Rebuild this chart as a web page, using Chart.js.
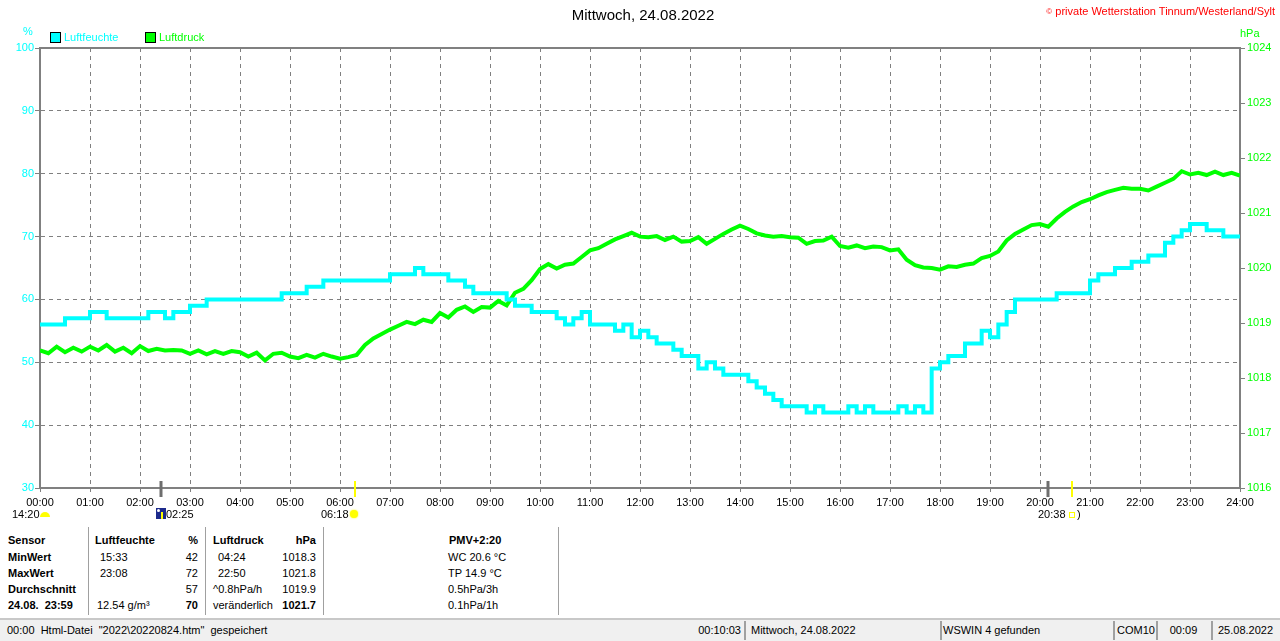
<!DOCTYPE html>
<html lang="de">
<head>
<meta charset="utf-8">
<title>Mittwoch, 24.08.2022</title>
<script src="https://cdn.jsdelivr.net/npm/chart.js@4.4.0/dist/chart.umd.min.js"></script>
<style>
  body { margin: 0; background: #fff; font-family: "Liberation Sans", Arial, sans-serif; font-size: 11px; }
  #seite { position: relative; width: 1280px; height: 641px; overflow: hidden; background: #fff; }
  #grafik { position: absolute; left: 0; top: 0; }
  .t { position: absolute; white-space: pre; line-height: 13px; }
  .b { font-weight: bold; }
  .r { text-align: right; }
  .trenn { position: absolute; top: 527px; width: 1px; height: 88px; background: #a0a0a0; }
  #status { position: absolute; left: 0; top: 618px; width: 1280px; height: 21px; background: #f0f0f0; border-top: 2px solid #c8c8c8; border-bottom: 1px solid #a0a0a0; }
  .feld { position: absolute; top: 1px; height: 19px; border-left: 2px solid #a0a0a0; }
</style>
</head>
<body>
<div id="seite">
  <canvas id="grafik" width="1280" height="520"></canvas>

  <div class="t" style="left:0;width:1286px;top:6px;text-align:center;font-size:15px;line-height:18px;">Mittwoch, 24.08.2022</div>
  <div class="t r" style="right:5px;top:5px;color:#ff0000;"><span style="font-size:8px;vertical-align:top;">©</span> private Wetterstation Tinnum/Westerland/Sylt</div>

  <div class="t" style="left:23px;top:25px;color:#00ffff;">%</div>
  <div style="position:absolute;left:50px;top:32px;width:9px;height:9px;background:#00ffff;border:1px solid #000;"></div>
  <div class="t" style="left:64px;top:31px;color:#00ffff;">Luftfeuchte</div>
  <div style="position:absolute;left:145px;top:32px;width:9px;height:9px;background:#00ff00;border:1px solid #000;"></div>
  <div class="t" style="left:159px;top:31px;color:#00ff00;">Luftdruck</div>
  <div class="t" style="left:1240px;top:27px;color:#00ff00;">hPa</div>

  <!-- Sonne / Mond unter der Zeitachse -->
  <div class="t" style="left:12px;top:508px;">14:20</div>
  <div style="position:absolute;left:40px;top:512px;width:10px;height:5px;background:#ffff00;border-radius:5px 5px 0 0;"></div>
  <div style="position:absolute;left:156px;top:508px;width:10px;height:11px;background:#1c2a8c;"></div>
  <div style="position:absolute;left:157px;top:509px;width:3px;height:3px;background:#fff;border-radius:2px;"></div>
  <div style="position:absolute;left:161px;top:512px;width:2px;height:7px;background:#ffff00;"></div>
  <div class="t" style="left:166px;top:508px;">02:25</div>
  <div class="t" style="left:321px;top:508px;">06:18</div>
  <div style="position:absolute;left:350px;top:510px;width:8px;height:8px;background:#ffff00;border-radius:4px;box-shadow:0 0 2px #ffff00;"></div>
  <div class="t" style="left:1038px;top:508px;">20:38</div>
  <div style="position:absolute;left:1069px;top:512px;width:4px;height:4px;border:1px solid #ffff00;"></div>
  <div class="t" style="left:1077px;top:508px;">)</div>

  <!-- Tabelle -->
  <div class="trenn" style="left:88px;"></div>
  <div class="trenn" style="left:205px;"></div>
  <div class="trenn" style="left:323px;"></div>
  <div class="trenn" style="left:558px;"></div>

  <div class="t b" style="left:8px;top:534px;">Sensor</div>
  <div class="t b" style="left:8px;top:551px;">MinWert</div>
  <div class="t b" style="left:8px;top:567px;">MaxWert</div>
  <div class="t b" style="left:8px;top:583px;">Durchschnitt</div>
  <div class="t b" style="left:8px;top:599px;">24.08.  23:59</div>

  <div class="t b" style="left:95px;top:534px;">Luftfeuchte</div>
  <div class="t" style="left:100px;top:551px;">15:33</div>
  <div class="t" style="left:100px;top:567px;">23:08</div>
  <div class="t" style="left:97px;top:599px;">12.54 g/m³</div>

  <div class="t b r" style="right:1082px;top:534px;">%</div>
  <div class="t r" style="right:1082px;top:551px;">42</div>
  <div class="t r" style="right:1082px;top:567px;">72</div>
  <div class="t r" style="right:1082px;top:583px;">57</div>
  <div class="t b r" style="right:1082px;top:599px;">70</div>

  <div class="t b" style="left:213px;top:534px;">Luftdruck</div>
  <div class="t" style="left:218px;top:551px;">04:24</div>
  <div class="t" style="left:218px;top:567px;">22:50</div>
  <div class="t" style="left:213px;top:583px;">^0.8hPa/h</div>
  <div class="t" style="left:213px;top:599px;">veränderlich</div>

  <div class="t b r" style="right:964px;top:534px;">hPa</div>
  <div class="t r" style="right:964px;top:551px;">1018.3</div>
  <div class="t r" style="right:964px;top:567px;">1021.8</div>
  <div class="t r" style="right:964px;top:583px;">1019.9</div>
  <div class="t b r" style="right:964px;top:599px;">1021.7</div>

  <div class="t b" style="left:449px;top:534px;">PMV+2:20</div>
  <div class="t" style="left:448px;top:551px;">WC 20.6 °C</div>
  <div class="t" style="left:448px;top:567px;">TP 14.9 °C</div>
  <div class="t" style="left:448px;top:583px;">0.5hPa/3h</div>
  <div class="t" style="left:448px;top:599px;">0.1hPa/1h</div>

  <!-- Statuszeile -->
  <div id="status">
    <div class="t" style="left:7px;top:4px;">00:00  Html-Datei  "2022\20220824.htm"  gespeichert</div>
    <div class="t r" style="right:539px;top:4px;">00:10:03</div>
    <div class="feld" style="left:744px;"></div>
    <div class="t" style="left:751px;top:4px;">Mittwoch, 24.08.2022</div>
    <div class="feld" style="left:940px;"></div>
    <div class="t" style="left:943px;top:4px;">WSWIN 4 gefunden</div>
    <div class="feld" style="left:1113px;"></div>
    <div class="t" style="left:1117px;top:4px;">COM10</div>
    <div class="feld" style="left:1156px;"></div>
    <div class="t" style="left:1156px;width:55px;top:4px;text-align:center;">00:09</div>
    <div class="feld" style="left:1211px;"></div>
    <div class="t" style="left:1218px;top:4px;">25.08.2022</div>
  </div>
</div>

<script>
/* Messwerte alle 10 Minuten, 00:00 bis 24:00 (eine Zeile = eine Stunde) */
var feuchte = [
  56, 56, 56, 56, 57, 57,
  57, 58, 58, 57, 57, 57,
  57, 57, 58, 58, 57, 58,
  58, 59, 59, 60, 60, 60,
  60, 60, 60, 60, 60, 60,
  61, 61, 61, 62, 62, 63,
  63, 63, 63, 63, 63, 63,
  63, 64, 64, 64, 65, 64,
  64, 64, 63, 63, 62, 61,
  61, 61, 61, 60, 59, 59,
  58, 58, 58, 57, 56, 57,
  58, 56, 56, 56, 55, 56,
  54, 55, 54, 53, 53, 52,
  51, 51, 49, 50, 49, 48,
  48, 48, 47, 46, 45, 44,
  43, 43, 43, 42, 43, 42,
  42, 42, 43, 42, 43, 42,
  42, 42, 43, 42, 43, 42,
  49, 50, 51, 51, 53, 53,
  55, 54, 56, 58, 60, 60,
  60, 60, 60, 61, 61, 61,
  61, 63, 64, 64, 65, 65,
  66, 66, 67, 67, 69, 70,
  71, 72, 72, 71, 71, 70,
  70
];

var luftdruck = [
  1018.50, 1018.45, 1018.57, 1018.47, 1018.55, 1018.48,
  1018.57, 1018.50, 1018.60, 1018.48, 1018.55, 1018.45,
  1018.58, 1018.49, 1018.53, 1018.50, 1018.51, 1018.50,
  1018.44, 1018.50, 1018.43, 1018.49, 1018.44, 1018.49,
  1018.47, 1018.39, 1018.46, 1018.32, 1018.44, 1018.46,
  1018.39, 1018.36, 1018.42, 1018.37, 1018.44, 1018.39,
  1018.35, 1018.38, 1018.42, 1018.60, 1018.72, 1018.80,
  1018.88, 1018.95, 1019.02, 1018.98, 1019.06, 1019.02,
  1019.18, 1019.10, 1019.24, 1019.30, 1019.20, 1019.29,
  1019.28, 1019.40, 1019.32, 1019.55, 1019.62, 1019.78,
  1019.98, 1020.07, 1019.99, 1020.06, 1020.08, 1020.20,
  1020.32, 1020.36, 1020.44, 1020.52, 1020.58, 1020.64,
  1020.57, 1020.56, 1020.58, 1020.51, 1020.57, 1020.48,
  1020.49, 1020.56, 1020.44, 1020.53, 1020.62, 1020.70,
  1020.77, 1020.71, 1020.63, 1020.59, 1020.57, 1020.58,
  1020.56, 1020.55, 1020.44, 1020.49, 1020.50, 1020.57,
  1020.40, 1020.37, 1020.41, 1020.36, 1020.39, 1020.38,
  1020.32, 1020.34, 1020.15, 1020.05, 1020.01, 1020.00,
  1019.97, 1020.03, 1020.02, 1020.06, 1020.08, 1020.18,
  1020.22, 1020.30, 1020.50, 1020.62, 1020.70, 1020.78,
  1020.80, 1020.75, 1020.90, 1021.02, 1021.12, 1021.20,
  1021.25, 1021.32, 1021.38, 1021.42, 1021.46, 1021.44,
  1021.44, 1021.41, 1021.48, 1021.55, 1021.62, 1021.76,
  1021.70, 1021.73, 1021.69, 1021.75, 1021.69, 1021.73,
  1021.68
];

/* Zeitpunkte in Minuten seit Mitternacht */
var minuten = feuchte.map(function (v, i) { return i * 10; });

/* Achsen */
var feuchteTicks = [30, 40, 50, 60, 70, 80, 90, 100];
var druckTicks = [1016, 1017, 1018, 1019, 1020, 1021, 1022, 1023, 1024];

/* Mondaufgang, Monduntergang, Sonnenaufgang, Sonnenuntergang (Minuten) */
var ereignisse = [
  { min: 145, farbe: '#6e6e6e', breite: 3 },
  { min: 1210, farbe: '#6e6e6e', breite: 3 },
  { min: 378, farbe: '#ffff00', breite: 2 },
  { min: 1238, farbe: '#ffff00', breite: 2 }
];

var schrift = { family: '"Liberation Sans", Arial, sans-serif', size: 11 };

function zweistellig(n) { return (n < 10 ? '0' : '') + n; }

/* Rahmen oben und Markierungen an der Zeitachse */
var rahmen = {
  id: 'rahmen',
  afterDraw: function (chart) {
    var ctx = chart.ctx, a = chart.chartArea, x = chart.scales.x;
    ctx.save();
    ctx.strokeStyle = '#808080';
    ctx.lineWidth = 2;
    ctx.beginPath();
    ctx.moveTo(a.left - 1, a.top);
    ctx.lineTo(a.right + 1, a.top);
    ctx.stroke();
    ereignisse.forEach(function (e) {
      var px = Math.round(x.getPixelForValue(e.min));
      ctx.strokeStyle = e.farbe;
      ctx.lineWidth = e.breite;
      ctx.beginPath();
      ctx.moveTo(px, a.bottom - 7);
      ctx.lineTo(px, a.bottom + 9);
      ctx.stroke();
    });
    ctx.restore();
  }
};

var grafik = new Chart(document.getElementById('grafik').getContext('2d'), {
  type: 'line',
  data: {
    datasets: [
      {
        label: 'Luftfeuchte',
        data: minuten.map(function (m, i) { return { x: m, y: feuchte[i] }; }),
        borderColor: '#00ffff',
        borderWidth: 4,
        stepped: 'after',
        pointRadius: 0,
        fill: false,
        yAxisID: 'y'
      },
      {
        label: 'Luftdruck',
        data: minuten.map(function (m, i) { return { x: m, y: luftdruck[i] }; }),
        borderColor: '#00ff00',
        borderWidth: 4,
        tension: 0,
        pointRadius: 0,
        fill: false,
        yAxisID: 'y2'
      }
    ]
  },
  options: {
    responsive: false,
    animation: false,
    devicePixelRatio: 1,
    layout: { padding: { top: 48, left: 0, right: 0, bottom: 0 } },
    plugins: { legend: { display: false }, tooltip: { enabled: false } },
    scales: {
      x: {
        type: 'linear',
        min: 0,
        max: 1440,
        afterFit: function (s) { s.height = 32; },
        ticks: {
          stepSize: 60,
          autoSkip: false,
          maxRotation: 0,
          color: '#000',
          font: schrift,
          padding: 4,
          callback: function (v) { return zweistellig(v / 60) + ':00'; }
        },
        grid: { color: '#808080', lineWidth: 1, tickLength: 4, tickColor: '#808080' },
        border: { color: '#808080', width: 2, dash: [4, 4] }
      },
      y: {
        position: 'left',
        min: 30,
        max: 100,
        afterFit: function (s) { s.width = 40; },
        afterBuildTicks: function (s) { s.ticks = feuchteTicks.map(function (v) { return { value: v }; }); },
        ticks: { color: '#00ffff', font: schrift, padding: 1, callback: function (v) { return String(v); } },
        grid: { color: '#808080', lineWidth: 1, tickLength: 5, tickColor: '#808080' },
        border: { color: '#808080', width: 2, dash: [4, 4] }
      },
      y2: {
        position: 'right',
        min: 1016,
        max: 1024,
        afterFit: function (s) { s.width = 40; },
        afterBuildTicks: function (s) { s.ticks = druckTicks.map(function (v) { return { value: v }; }); },
        ticks: { color: '#00ff00', font: schrift, padding: 2, callback: function (v) { return String(v); } },
        grid: { drawOnChartArea: false, color: '#808080', tickLength: 5 },
        border: { color: '#808080', width: 2 }
      }
    }
  },
  plugins: [rahmen]
});
</script>
</body>
</html>
